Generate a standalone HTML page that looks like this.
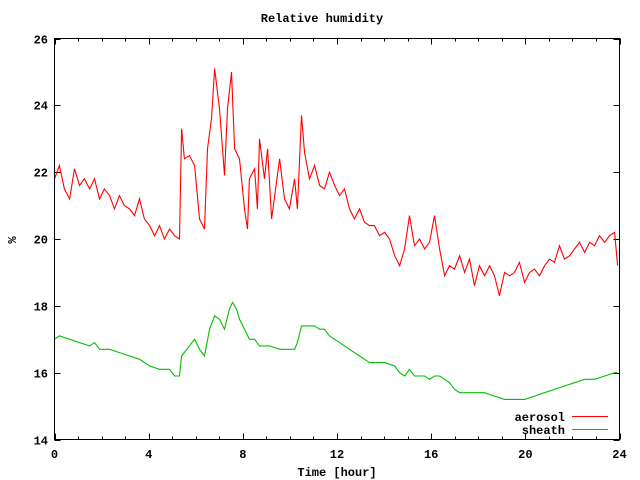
<!DOCTYPE html>
<html><head><meta charset="utf-8"><style>
body{margin:0;background:#fff;}
svg{display:block;font-family:"Liberation Mono","DejaVu Sans Mono",monospace;font-weight:bold;font-size:12px;}
</style></head><body>
<svg id="chart" width="640" height="480" xmlns="http://www.w3.org/2000/svg">
<text x="322" y="22" text-anchor="middle">Relative humidity</text>
<text x="337" y="476" text-anchor="middle">Time [hour]</text>
<text x="16" y="240" text-anchor="middle" transform="rotate(-90 16 240)">%</text>
<g id="ticks" shape-rendering="crispEdges"></g>
<g id="series"></g>
<rect x="54.5" y="38.5" width="565" height="401" fill="none" stroke="#000" stroke-width="1" shape-rendering="crispEdges"/>
<g>
<text x="565" y="421" text-anchor="end">aerosol</text>
<line x1="572" y1="416.5" x2="608" y2="416.5" stroke="#f00" shape-rendering="crispEdges"/>
<text x="565" y="434" text-anchor="end">sheath</text>
<line x1="572" y1="429.5" x2="608" y2="429.5" stroke="#00c000" shape-rendering="crispEdges"/>
</g>
</svg>
<script>
const xTicks=[0,4,8,12,16,20,24];
const yTicks=[14,16,18,20,22,24,26];
const aerosolHours=[0,0.21,0.42,0.64,0.85,1.06,1.27,1.49,1.70,1.91,2.12,2.34,2.55,2.76,2.97,3.19,3.40,3.61,3.82,4.04,4.25,4.46,4.67,4.89,5.10,5.31,5.40,5.52,5.73,5.95,6.16,6.37,6.50,6.67,6.80,7.01,7.22,7.35,7.52,7.65,7.86,8.07,8.20,8.28,8.50,8.62,8.71,8.92,9.05,9.22,9.39,9.56,9.77,9.98,10.20,10.32,10.49,10.62,10.83,11.05,11.26,11.47,11.68,11.90,12.11,12.32,12.53,12.74,12.96,13.17,13.38,13.59,13.81,14.02,14.23,14.45,14.66,14.87,15.08,15.29,15.51,15.72,15.93,16.14,16.36,16.57,16.78,16.99,17.21,17.42,17.63,17.84,18.05,18.27,18.48,18.69,18.90,19.12,19.33,19.54,19.75,19.97,20.18,20.39,20.60,20.82,21.03,21.24,21.45,21.66,21.88,22.09,22.30,22.52,22.73,22.94,23.15,23.37,23.58,23.79,23.92];
const aerosolValues=[21.8,22.2,21.5,21.2,22.1,21.6,21.8,21.5,21.8,21.2,21.5,21.3,20.9,21.3,21.0,20.9,20.7,21.2,20.6,20.4,20.1,20.4,20.0,20.3,20.1,20.0,23.3,22.4,22.5,22.2,20.6,20.3,22.7,23.6,25.1,23.9,21.9,23.9,25.0,22.7,22.4,20.9,20.3,21.8,22.1,20.9,23.0,21.8,22.7,20.6,21.5,22.4,21.2,20.9,21.8,20.9,23.7,22.6,21.8,22.2,21.6,21.5,22.0,21.6,21.3,21.5,20.9,20.6,20.9,20.5,20.4,20.4,20.1,20.2,20.0,19.5,19.2,19.7,20.7,19.8,20.0,19.7,19.9,20.7,19.7,18.9,19.2,19.1,19.5,19.0,19.4,18.6,19.2,18.9,19.2,18.9,18.3,19.0,18.9,19.0,19.3,18.7,19.0,19.1,18.9,19.2,19.4,19.3,19.8,19.4,19.5,19.7,19.9,19.6,19.9,19.8,20.1,19.9,20.1,20.2,19.2];
const sheathHours=[0,0.21,0.64,1.06,1.49,1.70,1.91,2.34,2.76,3.19,3.61,4.04,4.46,4.89,5.10,5.31,5.40,5.73,5.95,6.16,6.37,6.59,6.80,7.01,7.22,7.43,7.56,7.73,7.86,8.07,8.28,8.50,8.71,8.92,9.13,9.56,9.98,10.20,10.32,10.49,10.75,11.05,11.26,11.47,11.68,11.90,12.11,12.32,12.53,12.74,12.96,13.17,13.38,13.59,14.02,14.45,14.66,14.87,15.08,15.29,15.72,15.93,16.14,16.36,16.57,16.78,16.99,17.21,17.42,17.84,18.27,18.69,19.12,19.54,19.97,20.39,20.82,21.24,21.66,22.09,22.52,22.94,23.37,23.79,23.92];
const sheathValues=[17.0,17.1,17.0,16.9,16.8,16.9,16.7,16.7,16.6,16.5,16.4,16.2,16.1,16.1,15.9,15.9,16.5,16.8,17.0,16.7,16.5,17.3,17.7,17.6,17.3,17.9,18.1,17.9,17.6,17.3,17.0,17.0,16.8,16.8,16.8,16.7,16.7,16.7,16.9,17.4,17.4,17.4,17.3,17.3,17.1,17.0,16.9,16.8,16.7,16.6,16.5,16.4,16.3,16.3,16.3,16.2,16.0,15.9,16.1,15.9,15.9,15.8,15.9,15.9,15.8,15.7,15.5,15.4,15.4,15.4,15.4,15.3,15.2,15.2,15.2,15.3,15.4,15.5,15.6,15.7,15.8,15.8,15.9,16.0,16.0];
const X0=54.5,X1=619.5,Y0=439.5,Y1=38.5;
function xs(h){return X0+(h-0)/(24-0)*(X1-X0);}
function ys(v){return Y0-(v-14)/(26-14)*(Y0-Y1);}
const NS="http://www.w3.org/2000/svg";
const tg=document.getElementById('ticks');
function ln(x1,y1,x2,y2,name){const l=document.createElementNS(NS,'line');l.setAttribute('x1',x1);l.setAttribute('y1',y1);l.setAttribute('x2',x2);l.setAttribute('y2',y2);l.setAttribute('stroke','#000');


tg.appendChild(l);}
function tx(x,y,s,anchor,name){const t=document.createElementNS(NS,'text');t.setAttribute('x',x);t.setAttribute('y',y);t.setAttribute('text-anchor',anchor);t.textContent=s;


tg.appendChild(t);}
for(let h=0;h<=24;h++){const x=Math.round(xs(h))+0.5;const major=xTicks.includes(h);const L=major?6:3;
ln(x,Y0,x,Y0-L,'x-tick');ln(x,Y1,x,Y1+L,'x-tick-top');}
xTicks.forEach(h=>tx(xs(h),458,String(h),'middle','x-tick-label'));
yTicks.forEach(v=>{const y=Math.round(ys(v))+0.5;ln(X0,y,X0+6,y,'y-tick');ln(X1,y,X1-6,y,'y-tick-right');tx(48,y+4,String(v),'end','y-tick-label');});
const sg=document.getElementById('series');
function poly(hs,vs,color,name){const p=document.createElementNS(NS,'polyline');
p.setAttribute('points',hs.map((h,i)=>xs(h).toFixed(1)+','+ys(vs[i]).toFixed(1)).join(' '));
p.setAttribute('fill','none');p.setAttribute('stroke',color);p.setAttribute('stroke-width','1.1');


sg.appendChild(p);}
poly(aerosolHours,aerosolValues,'#f00','aerosol-line');
poly(sheathHours,sheathValues,'#00c000','sheath-line');
</script>
</body></html>
